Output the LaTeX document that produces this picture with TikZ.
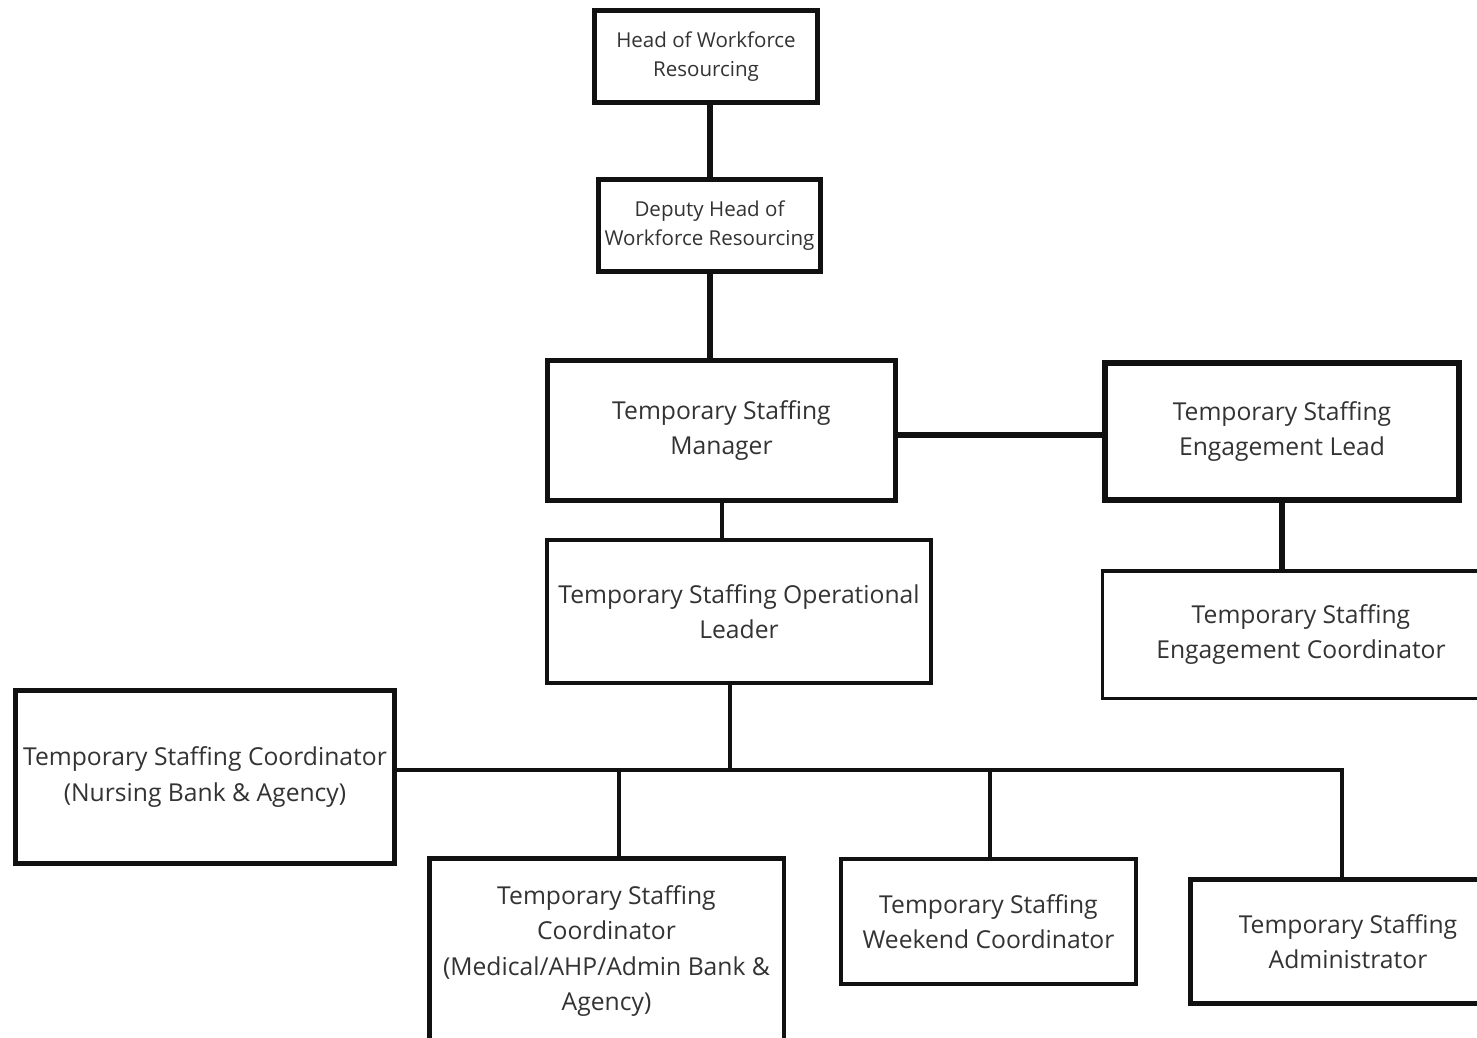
\documentclass[tikz,border=0pt]{standalone}
\usepackage{fontspec}
\setmainfont{Open Sans}
\usepackage{xcolor}
\usetikzlibrary{calc}
\definecolor{inkgray}{RGB}{51,51,51}
\definecolor{edgeblack}{RGB}{17,17,17}

\begin{document}
\begin{tikzpicture}[x=0.75pt,y=0.75pt,yscale=-1,xscale=1,
    rolebox/.style={draw=edgeblack,fill=white,inner sep=0pt,align=center,text=inkgray,font=\fontsize{18.5pt}{26.5pt}\selectfont},
    smallbox/.style={rolebox,font=\fontsize{15.4pt}{21.75pt}\selectfont},
    thickline/.style={draw=edgeblack,line width=4.9pt},
    thinline/.style={draw=edgeblack,line width=3pt}]
\useasboundingbox (0,0) rectangle (1477,1038);

%Shape: Rectangle [head]
\node [smallbox,line width=3.75pt,minimum width=167.25pt,minimum height=69pt] (head) at (706,56.5) {Head of Workforce\\Resourcing};
%Shape: Rectangle [deputy]
\node [smallbox,line width=3.75pt,minimum width=166.5pt,minimum height=69pt] (deputy) at (709.5,225.5) {Deputy Head of\\Workforce Resourcing};
%Shape: Rectangle [manager]
\node [rolebox,line width=3.75pt,minimum width=261pt,minimum height=105pt] (manager) at (721.5,430.5) {Temporary Staffing\\Manager};
%Shape: Rectangle [lead]
\node [rolebox,line width=4.5pt,minimum width=265.5pt,minimum height=102.75pt] (lead) at (1282,431.5) {Temporary Staffing\\Engagement Lead};
%Shape: Rectangle [engage]
\node [rolebox,line width=2.6pt,minimum width=297.4pt,minimum height=95.6pt] (engage) at (1301,634.5) {Temporary Staffing\\Engagement Coordinator};
%Shape: Rectangle [opslead]
\node [rolebox,line width=3pt,minimum width=288pt,minimum height=107.25pt] (opslead) at (739,611.5) {Temporary Staffing Operational\\Leader};
%Shape: Rectangle [nursing]
\node [rolebox,line width=4.1pt,minimum width=283.9pt,minimum height=129.4pt] (nursing) at (205,777) {Temporary Staffing Coordinator\\(Nursing Bank \& Agency)};
%Shape: Rectangle [medical]
\node [rolebox,line width=3.4pt,minimum width=265.9pt,minimum height=139.1pt] (medical) at (606.5,951) {Temporary Staffing\\Coordinator\\(Medical/AHP/Admin Bank \&\\Agency)};
%Shape: Rectangle [weekend]
\node [rolebox,line width=3.2pt,minimum width=221.25pt,minimum height=93.75pt] (weekend) at (988.5,921.5) {Temporary Staffing\\Weekend Coordinator};
%Shape: Rectangle [admin]
\node [rolebox,line width=3.75pt,minimum width=236.25pt,minimum height=93pt] (admin) at (1348,941.5) {Temporary Staffing\\Administrator};

%Straight Lines
\coordinate (bus) at (730,770);
\coordinate (sidelink) at (0,435);
\draw [thickline] (deputy.north -| 710,0) -- (head.south -| 710,0);
\draw [thickline] (deputy.south -| 710,0) -- (manager.north -| 710,0);
\draw [thickline] (manager.east |- sidelink) -- (lead.west |- sidelink);
\draw [thickline] (lead.south) -- (lead.south |- engage.north);
\draw [thinline] (manager.south) -- (manager.south |- opslead.north);
\draw [thinline] (opslead.south -| bus) -- (bus);
\draw [thinline] (nursing.east |- bus) -- (bus -| 1342,0) -- (admin.north -| 1342,0);
\draw [thinline] ($(medical.north)+(12.5,0)$) -- ($(medical.north |- bus)+(12.5,0)$);
\draw [thinline] (weekend.north -| 990,0) -- (bus -| 990,0);

\end{tikzpicture}
\end{document}
